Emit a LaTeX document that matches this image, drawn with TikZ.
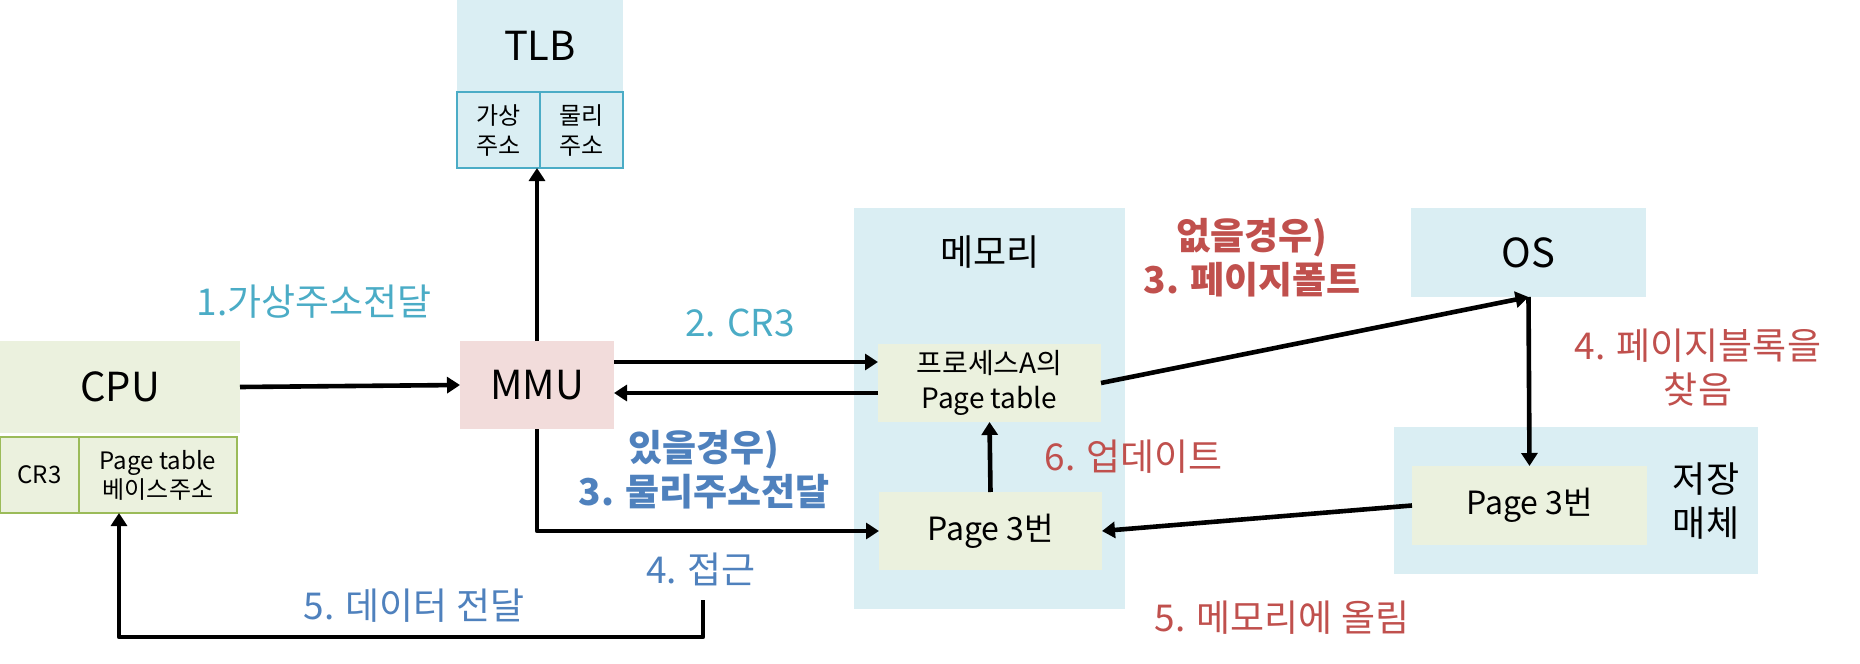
\documentclass[tikz,border=0pt]{standalone}
\usepackage{fontspec}
\setmainfont{Noto Sans CJK KR}
\usetikzlibrary{arrows.meta,calc}
\definecolor{aquaF}{HTML}{DAEEF3}
\definecolor{greenF}{HTML}{EBF1DE}
\definecolor{pinkF}{HTML}{F2DCDB}
\definecolor{tealC}{HTML}{4BACC6}
\definecolor{redC}{HTML}{C0504D}
\definecolor{blueC}{HTML}{4F81BD}
\definecolor{greenB}{HTML}{9BBB59}
\tikzset{
  box/.style={inner sep=0pt, outer sep=0pt, align=center},
  aquabox/.style={box, fill=aquaF},
  greenbox/.style={box, fill=greenF},
  tlbcell/.style={box, fill=aquaF, draw=tealC, line width=1pt, minimum width=41.5pt, minimum height=38pt, font=\fontsize{12}{15}\selectfont},
  cpucell/.style={box, fill=greenF, draw=greenB, line width=1pt, minimum height=38pt, font=\fontsize{12}{14.5}\selectfont},
  bigtxt/.style={font=\fontsize{20}{23}\selectfont},
  lbl/.style={inner sep=0pt, align=center, font=\fontsize{18.5}{22}\selectfont},
  blbl/.style={inner sep=0pt, align=center, font=\fontsize{18.5}{22}\selectfont\bfseries},
  arr/.style={line width=2.3pt, line join=round, -{Triangle[length=6.5pt,width=8pt]}}
}
\begin{document}
\begin{tikzpicture}[x=0.5pt,y=-0.5pt]
\useasboundingbox (0,0) rectangle (1860,664);
% TLB
\node[aquabox, bigtxt, minimum width=83pt, minimum height=46pt] (tlb) at (540,46) {TLB};
\node[tlbcell] (tlbv) at (498.5,130) {가상\\주소};
\node[tlbcell] (tlbp) at (581.5,130) {물리\\주소};
% CPU
\node[greenbox, bigtxt, minimum width=120pt, minimum height=46pt] (cpu) at (120,387) {CPU};
\node[cpucell, minimum width=39.5pt] (cr3) at (39.5,475) {CR3};
\node[cpucell, minimum width=79pt] (ptb) at (158,475) {Page table\\베이스주소};
% MMU
\node[box, fill=pinkF, bigtxt, minimum width=77pt, minimum height=44pt] (mmu) at (537,385) {MMU};
% Memory
\node[aquabox, minimum width=135.5pt, minimum height=200.5pt] (mem) at (989.5,408.5) {};
\node[inner sep=0pt, font=\fontsize{18}{21}\selectfont] (memlbl) at (990,252) {메모리};
\node[greenbox, minimum width=111.5pt, minimum height=39pt, font=\fontsize{14}{17.5}\selectfont] (pt) at (989.5,383) {프로세스A의\\Page table};
\node[greenbox, minimum width=111.5pt, minimum height=39pt, font=\fontsize{16}{19}\selectfont] (pg) at (990.5,531) {Page 3번};
% OS
\node[aquabox, bigtxt, minimum width=117.5pt, minimum height=44.5pt] (os) at (1528.5,252.5) {OS};
% Storage
\node[aquabox, minimum width=182pt, minimum height=73.5pt] (st) at (1576,500.5) {};
\node[greenbox, minimum width=117.5pt, minimum height=39.5pt, font=\fontsize{16}{19}\selectfont] (spg) at (1529.5,505.5) {Page 3번};
\node[inner sep=0pt, align=center, font=\fontsize{18}{22}\selectfont] (stlbl) at (1706,501) {저장\\매체};
% helper coordinates
\coordinate (y362) at (0,362);
\coordinate (y393) at (0,393);
\coordinate (dstart) at (703,600);
\coordinate (dlow) at (0,637);
\coordinate (dend) at (119,513);
% connectors
\draw[arr] (cpu.east) -- (mmu.west);
\draw[arr] (mmu.north) -- (mmu.north |- tlbp.south);
\draw[arr] (mmu.east |- y362) -- (pt.west |- y362);
\draw[arr] (pt.west |- y393) -- (mmu.east |- y393);
\draw[arr] (mmu.south) |- (pg.west);
\draw[arr] (pg.north) -- (pt.south);
\draw[arr] (pt.east) -- (os.south);
\draw[arr] (os.south) -- (spg.north);
\draw[arr] (spg.west) -- (pg.east);
\draw[arr] (dstart) -- (dstart |- dlow) -| (dend);
% labels
\node[lbl, text=tealC] (l1) at (314,302) {1.가상주소전달};
\node[lbl, text=tealC] (l2) at (740,323) {2. CR3};
\node[blbl, text=redC] (l3r) at (1252,258) {없을경우)\\3. 페이지폴트};
\node[blbl, text=blueC] (l3b) at (704,470) {있을경우)\\3. 물리주소전달};
\node[lbl, text=blueC] (l4b) at (701,569) {4. 접근};
\node[lbl, text=blueC] (l5b) at (414,606) {5. 데이터 전달};
\node[lbl, text=redC] (l6) at (1134,457) {6. 업데이트};
\node[lbl, text=redC] (l4r) at (1698,368) {4. 페이지블록을\\찾음};
\node[lbl, text=redC] (l5r) at (1282,618) {5. 메모리에 올림};
\end{tikzpicture}
\end{document}
